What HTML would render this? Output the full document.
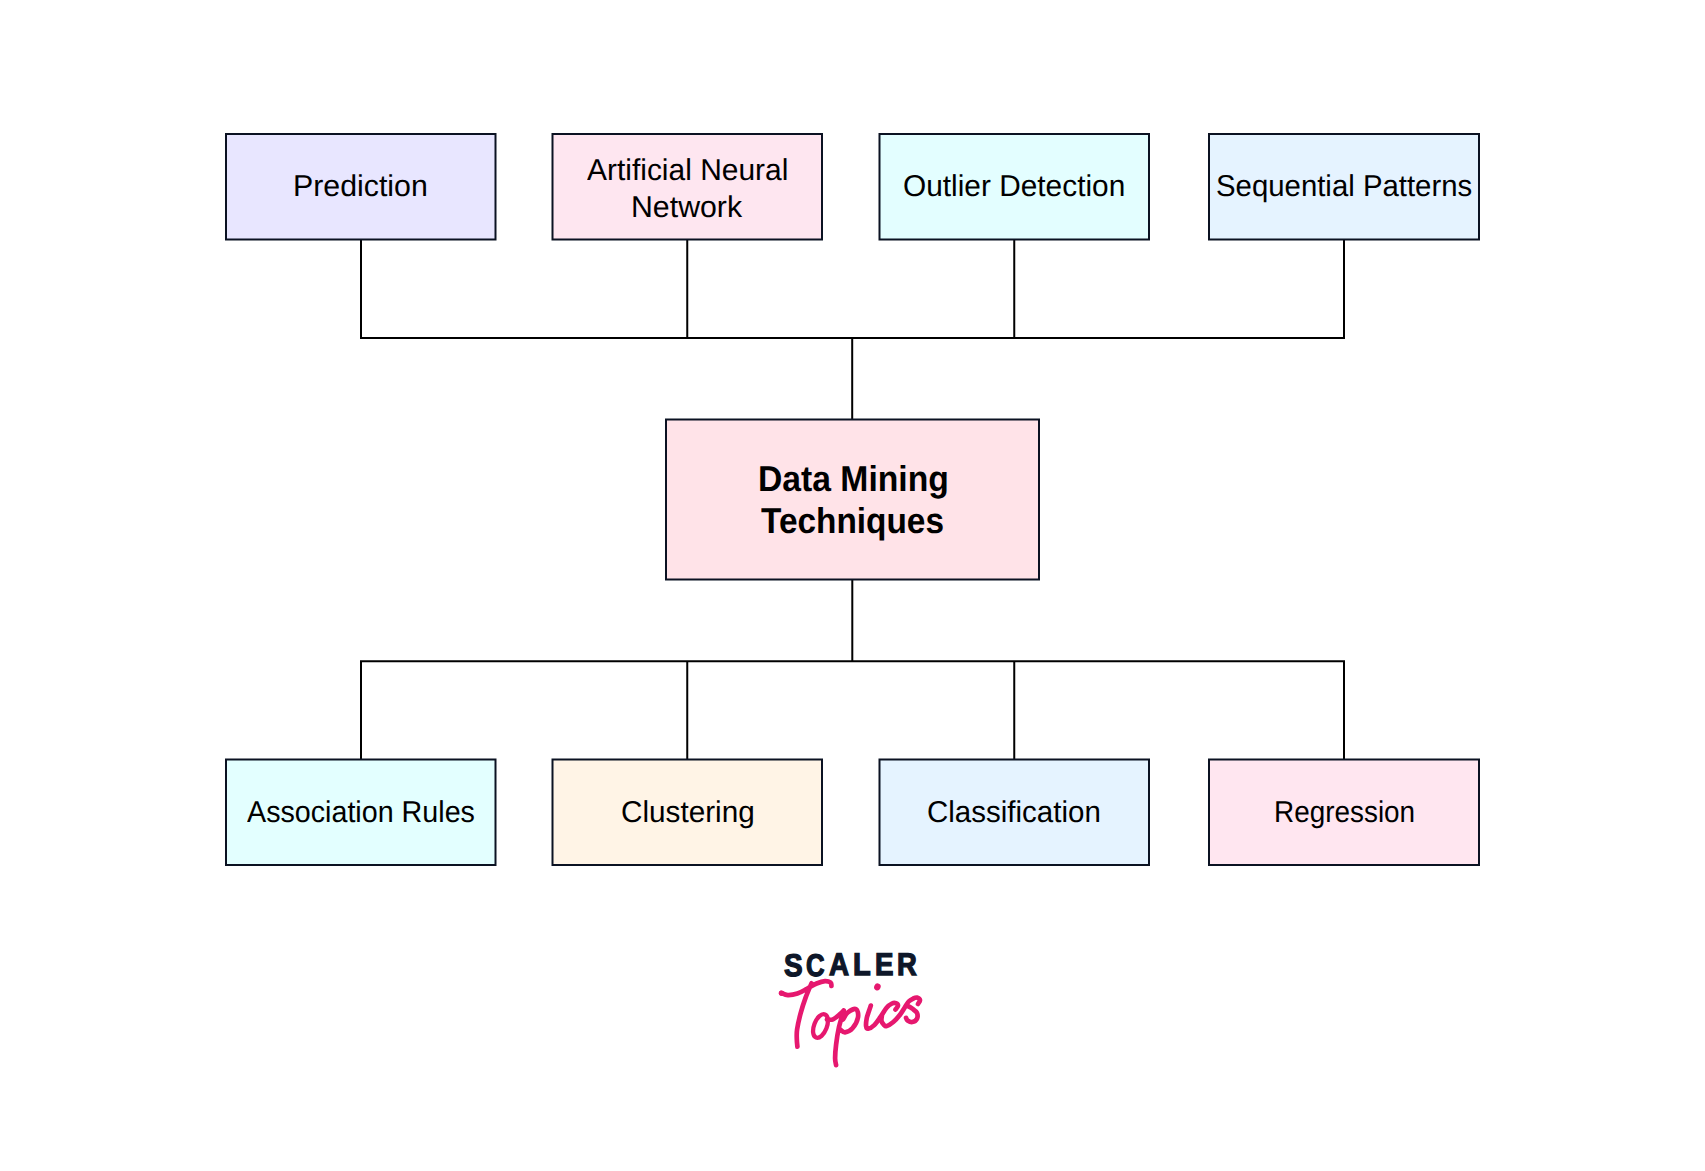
<!DOCTYPE html>
<html>
<head>
<meta charset="utf-8">
<style>
html,body{margin:0;padding:0;background:#fff;}
body{width:1705px;height:1171px;position:relative;overflow:hidden;font-family:"Liberation Sans",sans-serif;}
svg{position:absolute;left:0;top:0;}
.t{position:absolute;white-space:nowrap;font-size:30.2px;line-height:30px;text-rendering:geometricPrecision;color:#000;transform-origin:0 0;}
.b{font-weight:bold;font-size:36px;line-height:36px;}
.lg{font-weight:bold;font-size:31.4px;line-height:34px;color:#0e1729;-webkit-text-stroke:1.3px #0e1729;}
</style>
</head>
<body>
<svg width="1705" height="1171" viewBox="0 0 1705 1171">
  <g fill="none" stroke="#000" stroke-width="2">
    <path d="M361 240V339M687.25 240V339M1014.25 240V339M1344 240V339M360 338H1345M852.2 338V419"/>
    <path d="M852.3 580V661M360 661.2H1345M361 661V759M687.25 661V759M1014.25 661V759M1344 661V759"/>
  </g>
  <g stroke="#0b1222" stroke-width="2">
    <rect x="226" y="134" width="269.5" height="105.5" fill="#e8e6ff"/>
    <rect x="552.5" y="134" width="269.5" height="105.5" fill="#fee6f0"/>
    <rect x="879.5" y="134" width="269.5" height="105.5" fill="#e3feff"/>
    <rect x="1209" y="134" width="270" height="105.5" fill="#e5f3ff"/>
    <rect x="666" y="419.5" width="373" height="160" fill="#ffe3e8"/>
    <rect x="226" y="759.5" width="269.5" height="105.5" fill="#e3ffff"/>
    <rect x="552.5" y="759.5" width="269.5" height="105.5" fill="#fff4e6"/>
    <rect x="879.5" y="759.5" width="269.5" height="105.5" fill="#e5f3ff"/>
    <rect x="1209" y="759.5" width="270" height="105.5" fill="#ffe6f0"/>
  </g>
</svg>
<!--LOGO-->
<svg width="1705" height="1171" viewBox="0 0 1705 1171" style="position:absolute;left:0;top:0">
<path d="M781.10 992.90 C782.22 993.28 785.08 995.08 787.80 995.20 C790.52 995.32 794.20 994.67 797.40 993.60 C800.60 992.53 803.80 990.48 807.00 988.80 C810.20 987.12 813.60 984.78 816.60 983.50 C819.60 982.22 822.65 981.23 825.00 981.10 C827.35 980.97 829.63 981.90 830.70 982.70 C831.77 983.50 831.28 985.37 831.40 985.90 M811.50 983.30 C810.53 985.65 807.52 992.38 805.70 997.40 C803.88 1002.42 802.03 1008.07 800.60 1013.40 C799.17 1018.73 797.73 1025.13 797.10 1029.40 C796.47 1033.67 796.75 1036.12 796.80 1039.00 C796.85 1041.88 797.30 1045.42 797.40 1046.70 M826.90 1019.50 C827.92 1019.47 830.78 1020.23 833.00 1019.30 C835.22 1018.37 838.42 1015.37 840.20 1013.90 C841.98 1012.43 843.12 1011.07 843.70 1010.50 M843.70 1010.50 C842.90 1013.35 840.17 1021.92 838.90 1027.60 C837.63 1033.28 836.73 1039.48 836.10 1044.60 C835.47 1049.72 835.10 1054.88 835.10 1058.30 C835.10 1061.72 835.93 1063.97 836.10 1065.10 M843.00 1019.40 C843.80 1018.25 845.63 1014.22 847.80 1012.50 C849.97 1010.78 854.30 1008.30 856.00 1009.10 C857.70 1009.90 858.58 1014.10 858.00 1017.30 C857.42 1020.50 854.67 1025.80 852.50 1028.30 C850.33 1030.80 847.05 1032.08 845.00 1032.30 C842.95 1032.52 841.00 1030.05 840.20 1029.60 M870.80 1005.60 C870.45 1006.63 869.38 1009.67 868.70 1011.80 C868.02 1013.93 867.13 1016.02 866.70 1018.40 C866.27 1020.78 865.85 1024.38 866.10 1026.10 C866.35 1027.82 866.83 1028.87 868.20 1028.70 C869.57 1028.53 872.25 1027.07 874.30 1025.10 C876.35 1023.13 878.45 1019.80 880.50 1016.90 C882.55 1014.00 884.68 1009.93 886.60 1007.70 C888.52 1005.47 890.43 1004.25 892.00 1003.50 C893.57 1002.75 895.00 1002.82 896.00 1003.20 C897.00 1003.58 898.08 1004.75 898.00 1005.80 C897.92 1006.85 895.92 1008.88 895.50 1009.50 M882.00 1014.80 C881.92 1015.83 881.15 1019.28 881.50 1021.00 C881.85 1022.72 883.25 1024.25 884.10 1025.10 C884.95 1025.95 885.07 1026.62 886.60 1026.10 C888.13 1025.58 891.07 1023.88 893.30 1022.00 C895.53 1020.12 898.12 1017.18 900.00 1014.80 C901.88 1012.42 903.15 1009.92 904.60 1007.70 C906.05 1005.48 907.25 1003.03 908.70 1001.50 C910.15 999.97 911.92 999.15 913.30 998.50 C914.68 997.85 915.88 997.32 917.00 997.60 C918.12 997.88 919.83 999.13 920.00 1000.20 C920.17 1001.27 918.33 1003.37 918.00 1004.00 M907.10 1005.60 C907.97 1006.12 910.67 1007.50 912.30 1008.70 C913.93 1009.90 916.13 1011.10 916.90 1012.80 C917.67 1014.50 917.67 1017.37 916.90 1018.90 C916.13 1020.43 913.85 1021.73 912.30 1022.00 C910.75 1022.27 908.63 1021.18 907.60 1020.50 C906.57 1019.82 906.35 1018.33 906.10 1017.90" fill="none" stroke="#e6186f" stroke-width="4.7" stroke-linecap="round" stroke-linejoin="round"/>
<ellipse cx="820.5" cy="1026" rx="6.4" ry="12.4" transform="rotate(21 820.5 1026)" fill="none" stroke="#e6186f" stroke-width="4.3"/>
<circle cx="781.6" cy="993.2" r="2.7" fill="#e6186f"/>
<ellipse cx="877.4" cy="986.9" rx="3.2" ry="3.6" transform="rotate(25 877.4 986.9)" fill="#e6186f"/>
</svg>
<div class="t" style="left:292.83px;top:171.72px;transform:scaleX(1.0044)">Prediction</div>
<div class="t" style="left:586.98px;top:156.18px;transform:scaleX(0.9919)">Artificial Neural</div>
<div class="t" style="left:631.48px;top:192.64px;transform:scaleX(1.0034)">Network</div>
<div class="t" style="left:902.90px;top:171.91px;transform:scaleX(0.9885)">Outlier Detection</div>
<div class="t" style="left:1215.97px;top:172.03px;transform:scaleX(0.9724)">Sequential Patterns</div>
<div class="t b" style="left:757.93px;top:460.83px;transform:scaleX(0.9357)">Data Mining</div>
<div class="t b" style="left:761.48px;top:502.88px;transform:scaleX(0.9270)">Techniques</div>
<div class="t" style="left:246.58px;top:797.82px;transform:scaleX(0.9499)">Association Rules</div>
<div class="t" style="left:621.30px;top:797.75px;transform:scaleX(0.9841)">Clustering</div>
<div class="t" style="left:927.07px;top:797.71px;transform:scaleX(0.9776)">Classification</div>
<div class="t" style="left:1273.85px;top:797.82px;transform:scaleX(0.9242)">Regression</div>
<div class="t lg" style="left:784.25px;top:948.86px;transform:scaleX(0.8895)">S</div>
<div class="t lg" style="left:806.47px;top:948.86px;transform:scaleX(0.8206)">C</div>
<div class="t lg" style="left:828.88px;top:947.84px;transform:scaleX(0.8849)">A</div>
<div class="t lg" style="left:853.13px;top:947.84px;transform:scaleX(0.9239)">L</div>
<div class="t lg" style="left:875.33px;top:947.84px;transform:scaleX(0.8831)">E</div>
<div class="t lg" style="left:896.86px;top:947.84px;transform:scaleX(0.8731)">R</div>
</body>
</html>
